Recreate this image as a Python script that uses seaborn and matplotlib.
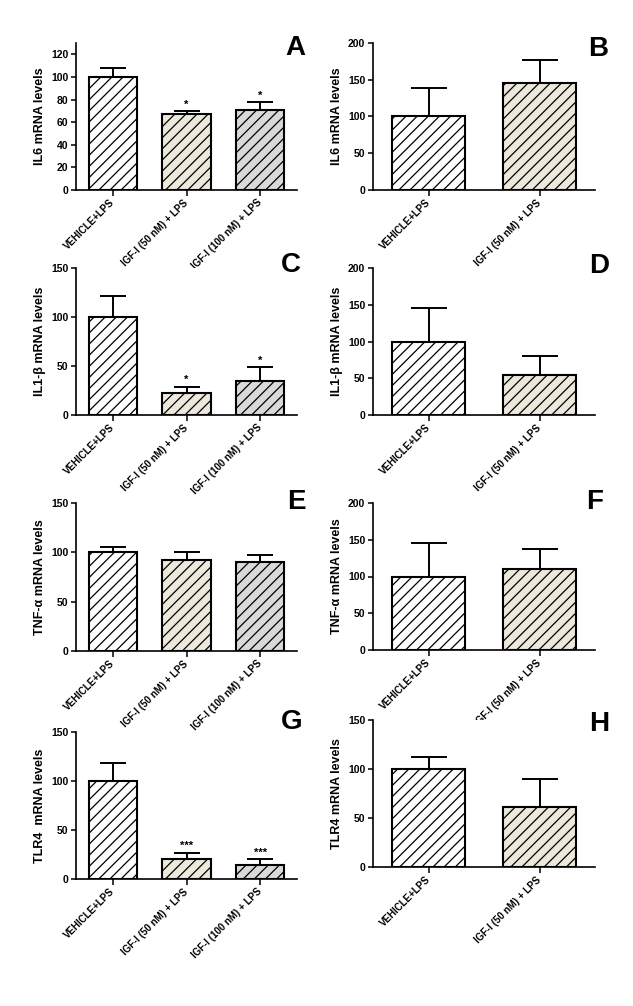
import numpy as np
import pandas as pd
import matplotlib
matplotlib.use("Agg")
import matplotlib.pyplot as plt
import seaborn as sns

# groups on the x axis
groups3 = ["VEHICLE+LPS", "IGF-I (50 nM) + LPS", "IGF-I (100 nM) + LPS"]
groups2 = ["VEHICLE+LPS", "IGF-I (50 nM) + LPS"]
bar_colors = ["#ffffff", "#efe9d9", "#d9d9d9"]

# mean values and upper error (SEM)
il6_a = [100, 67.5, 71]
il6_a_err = [8, 2, 6.5]
il6_b = [100, 145]
il6_b_err = [39, 32]
il1b_c = [100, 22, 35]
il1b_c_err = [21.5, 7, 14]
il1b_d = [100, 54]
il1b_d_err = [45, 26]
tnf_e = [100, 92, 90]
tnf_e_err = [5, 8, 7.5]
tnf_f = [100, 110]
tnf_f_err = [45, 27]
tlr4_g = [100, 20, 14]
tlr4_g_err = [18, 7, 6]
tlr4_h = [100, 61]
tlr4_h_err = [12.5, 29]

stars_a = ["", "*", "*"]
stars_c = ["", "*", "*"]
stars_g = ["", "***", "***"]

sns.set_style("ticks")
plt.rcParams["font.family"] = ["Liberation Sans", "DejaVu Sans"]
plt.rcParams["font.weight"] = "bold"
plt.rcParams["axes.labelweight"] = "bold"
plt.rcParams["hatch.linewidth"] = 0.9
for key in ["text.color", "axes.labelcolor", "xtick.color", "ytick.color", "axes.edgecolor"]:
    plt.rcParams[key] = "black"

fig = plt.figure(figsize=(6.33, 10.06), dpi=100)
W, H = 633.0, 1006.0


def panel(left, top, right, bottom, cats, means, errs, ylim, yticks, ylabel,
          letter, letter_xy, stars=None, cap=10):
    ax = fig.add_axes([left / W, 1 - bottom / H, (right - left) / W, (bottom - top) / H])
    df = pd.DataFrame({"group": cats, "value": means})
    sns.barplot(data=df, x="group", y="value", hue="group",
                palette=bar_colors[:len(cats)], legend=False, errorbar=None,
                width=0.66, edgecolor="black", linewidth=1.5, hatch="///", ax=ax)
    x = np.arange(len(cats))
    ax.errorbar(x, means, yerr=[np.zeros(len(cats)), errs], fmt="none",
                ecolor="black", elinewidth=1.4, capsize=cap, capthick=1.4, zorder=1)
    if stars:
        for i, s in enumerate(stars):
            if s:
                ax.text(i, means[i] + errs[i] + ylim[1] * 0.01, s, ha="center",
                        va="bottom", fontsize=8, fontweight="bold")
    ax.set_xlim(-0.5, len(cats) - 0.5)
    ax.set_ylim(*ylim)
    ax.set_yticks(yticks)
    ax.set_xticks(x)
    ax.set_xticklabels(cats, rotation=45, ha="right", va="center",
                       rotation_mode="anchor", fontsize=7, fontweight="bold")
    ax.tick_params(axis="y", labelsize=7.5, length=3.5, width=1.1, pad=2)
    ax.tick_params(axis="x", length=4, width=1.1, pad=4)
    ax.set_xlabel("")
    ax.set_ylabel(ylabel, fontsize=9, fontweight="bold", labelpad=4)
    for s in ["left", "bottom"]:
        ax.spines[s].set_linewidth(1.2)
    sns.despine(ax=ax)
    fig.text(letter_xy[0] / W, 1 - letter_xy[1] / H, letter, fontsize=20,
             fontweight="bold", ha="center", va="center")
    return ax


panel(76, 43, 297, 190, groups3, il6_a, il6_a_err, (0, 130), range(0, 121, 20),
      "IL6 mRNA levels", "A", (295, 48), stars_a, cap=9.5)
panel(373, 43, 595, 190, groups2, il6_b, il6_b_err, (0, 200), range(0, 201, 50),
      "IL6 mRNA levels", "B", (598, 49), cap=13)
panel(76, 268, 297, 415, groups3, il1b_c, il1b_c_err, (0, 150), range(0, 151, 50),
      "IL1-β mRNA levels", "C", (291, 265), stars_c, cap=9.5)
panel(373, 268, 595, 415, groups2, il1b_d, il1b_d_err, (0, 200), range(0, 201, 50),
      "IL1-β mRNA levels", "D", (599, 266), cap=13)
panel(76, 503, 297, 651, groups3, tnf_e, tnf_e_err, (0, 150), range(0, 151, 50),
      "TNF-α mRNA levels", "E", (296, 502), cap=9.5)
panel(373, 503, 595, 650, groups2, tnf_f, tnf_f_err, (0, 200), range(0, 201, 50),
      "TNF-α mRNA levels", "F", (595, 502), cap=13)
panel(76, 732, 297, 879, groups3, tlr4_g, tlr4_g_err, (0, 150), range(0, 151, 50),
      "TLR4  mRNA levels", "G", (292, 722), stars_g, cap=9.5)
panel(373, 720, 595, 867, groups2, tlr4_h, tlr4_h_err, (0, 150), range(0, 151, 50),
      "TLR4 mRNA levels", "H", (599, 724), cap=13)

fig.savefig("out.png", dpi=100, facecolor="white")
